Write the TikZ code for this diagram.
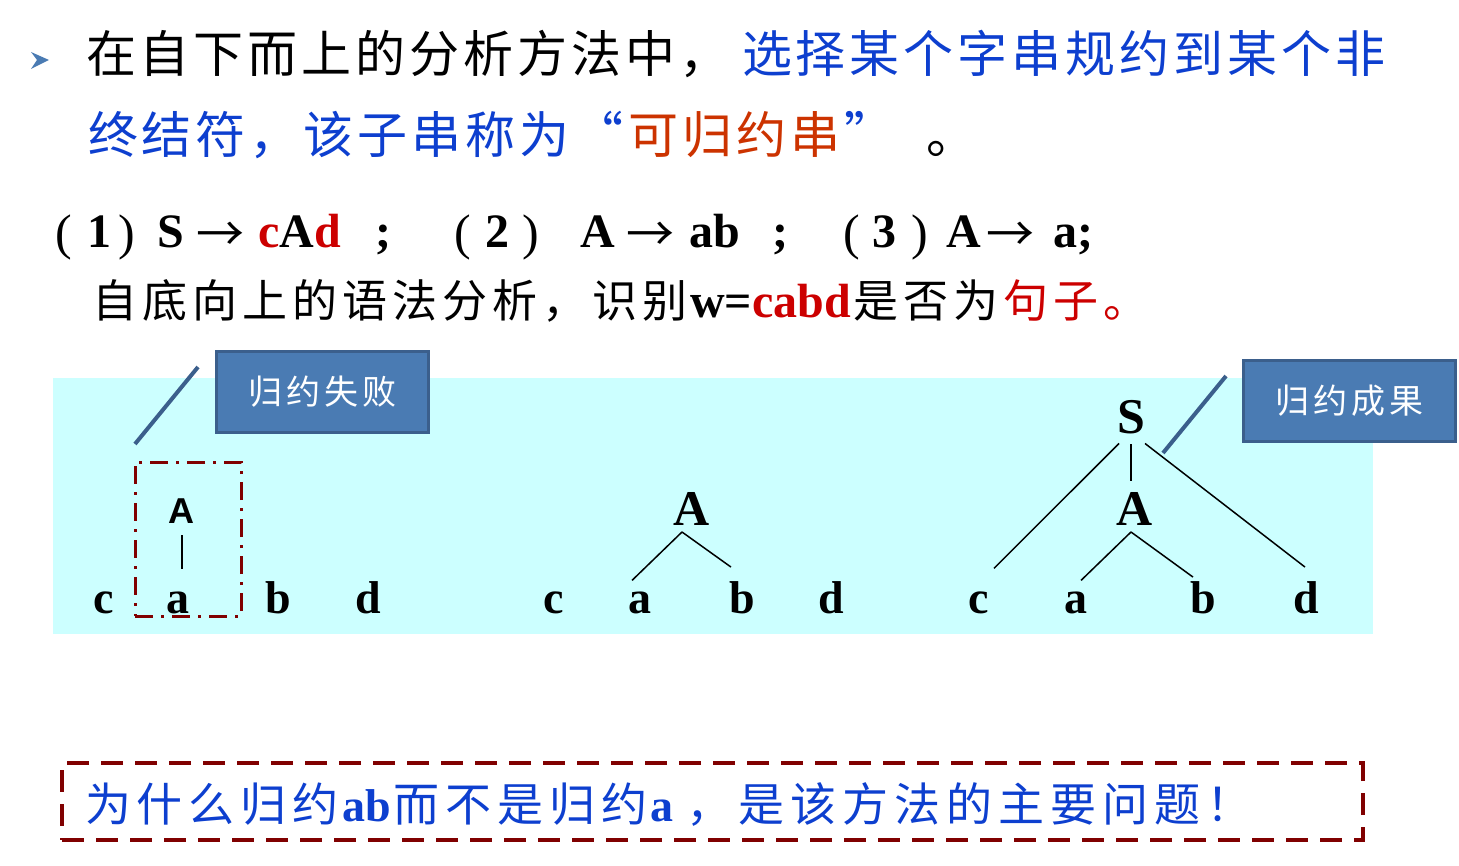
\documentclass[tikz,border=0pt]{standalone}
\usepackage{fontspec}
\setmainfont{Liberation Serif}
\newfontfamily\cjk{Noto Sans CJK SC}
\newfontfamily\sansb{Liberation Sans}
\usetikzlibrary{calc}
\definecolor{tblue}{HTML}{0D3FCF}
\definecolor{tred}{HTML}{CC0000}
\definecolor{torange}{HTML}{CC3300}
\definecolor{cyanbg}{HTML}{CCFFFF}
\definecolor{boxfill}{HTML}{4A7BB3}
\definecolor{boxdraw}{HTML}{3B5F8C}
\definecolor{darkred}{HTML}{800000}
\makeatletter
\newcommand\spc[2]{\def\spc@w{#1}\spc@loop#2\relax}
\def\spc@loop#1{\ifx\relax#1\else\makebox[\spc@w][c]{#1}\expandafter\spc@loop\fi}
\makeatother
\begin{document}
\begin{tikzpicture}[x=1pt,y=-1pt,
  txt/.style={inner sep=0pt,outer sep=0pt,anchor=base west},
  sym/.style={inner sep=0pt,outer sep=0pt,anchor=base,font=\fontsize{48}{52}\selectfont\bfseries},
  par/.style={inner sep=0pt,outer sep=0pt,anchor=base,font=\fontsize{50}{54}\selectfont},
  arr/.style={inner sep=0pt,outer sep=0pt,anchor=base,font=\cjk\fontsize{48}{52}\selectfont},
  leaf/.style={inner sep=0pt,outer sep=0pt,anchor=base,font=\fontsize{46}{50}\selectfont\bfseries},
  nt/.style={inner sep=0pt,outer sep=0pt,anchor=base,font=\fontsize{50}{54}\selectfont\bfseries},
  callout/.style={draw=boxdraw,line width=3pt,fill=boxfill,minimum width=212pt,minimum height=81pt,text=white,inner sep=0pt,font=\cjk\fontsize{34}{38}\selectfont},
  pointer/.style={draw=boxdraw,line width=4pt},
  tedge/.style={draw=black,line width=1.5pt}]
\useasboundingbox (0,0) rectangle (1459,866);
% background
\fill[cyanbg] (53,378) rectangle (1373,634);
% bullet
\fill[boxfill] (31,52) -- (49,60) -- (31,69) -- (37,60) -- cycle;
% line 1
\node[txt] (l1a) at (84,73) {\cjk\fontsize{50}{54}\selectfont\spc{54pt}{在自下而上的分析方法中，}};
\node[txt,text=tblue] (l1b) at (740,73) {\cjk\fontsize{50}{54}\selectfont\spc{54pt}{选择某个字串规约到某个非}};
% line 2
\node[txt] (l2a) at (86,154) {\cjk\fontsize{50}{54}\selectfont\color{tblue}\spc{54pt}{终结符，该子串称为“}\color{torange}\spc{54pt}{可归约串}\color{tblue}\spc{54pt}{”}};
\node[txt] (l2b) at (926,154) {\cjk\fontsize{50}{54}\selectfont 。};
% line 3
\node[par] (p1o) at (64,250) {(};
\node[sym] (p1n) at (99,248) {1};
\node[par] (p1c) at (127,250) {)};
\node[sym] (r1l) at (171,248) {S};
\node[arr] (r1a) at (220,252) {→};
\node[sym,text=tred] (r1r) at (300,248) {c\textcolor{black}{A}d};
\node[sym] (s1) at (383,248) {;};
\node[par] (p2o) at (463,250) {(};
\node[sym] (p2n) at (497,248) {2};
\node[par] (p2c) at (531,250) {)};
\node[sym] (r2l) at (598,248) {A};
\node[arr] (r2a) at (650,252) {→};
\node[sym] (r2r) at (715,248) {ab};
\node[sym] (s2) at (780,248) {;};
\node[par] (p3o) at (852,250) {(};
\node[sym] (p3n) at (884,248) {3};
\node[par] (p3c) at (920,250) {)};
\node[sym] (r3l) at (964,248) {A};
\node[arr] (r3a) at (1010,252) {→};
\node[sym] (r3r) at (1073,248) {a;};
% line 4
\node[txt] (l4) at (90,318) {{\cjk\fontsize{45}{49}\selectfont\spc{50pt}{自底向上的语法分析，识别}}{\fontsize{48}{52}\selectfont\bfseries w=\textcolor{tred}{cabd}}{\cjk\fontsize{45}{49}\selectfont\spc{50pt}{是否为}\color{tred}\spc{50pt}{句子。}}};
% callouts
\node[callout] (fail) at (322.5,392) {\spc{38pt}{归约失败}};
\coordinate (failtail) at (198,367);
\coordinate (failtip) at (135,444);
\draw[pointer] (failtail) -- (failtip);
\node[callout] (succ) at (1349.5,401) {\spc{38pt}{归约成果}};
\coordinate (succtail) at (1226,376);
\coordinate (succtip) at (1163,453);
\draw[pointer] (succtail) -- (succtip);
% left tree
\node[leaf] (c1) at (104,613) {c};
\node[leaf] (a1) at (178,613) {a};
\node[leaf] (b1) at (278,613) {b};
\node[leaf] (d1) at (368,613) {d};
\node[inner sep=0pt,anchor=base,font=\sansb\fontsize{36}{40}\selectfont\bfseries] (A1) at (181,523) {A};
\draw[line width=1.5pt] ([shift={(1,12)}]A1.south) -- ([shift={(4,-22)}]a1.north);
\node[draw=darkred,line width=3pt,dash pattern=on 18pt off 8pt on 3pt off 8pt,minimum width=106pt,minimum height=154pt,inner sep=0pt] (failbox) at (188,539) {};
% middle tree
\node[leaf] (c2) at (554,613) {c};
\node[leaf] (a2) at (640,613) {a};
\node[leaf] (b2) at (742,613) {b};
\node[leaf] (d2) at (831,613) {d};
\node[nt] (A2) at (692,525) {A};
\draw[tedge] ([shift={(-10,7)}]A2.south) -- ([shift={(-8,-11)}]a2.north);
\draw[tedge] ([shift={(-10,7)}]A2.south) -- ([shift={(-11,-14)}]b2.north);
% right tree
\node[leaf] (c3) at (979,613) {c};
\node[leaf] (a3) at (1076,613) {a};
\node[leaf] (b3) at (1203,613) {b};
\node[leaf] (d3) at (1306,613) {d};
\node[nt] (S3) at (1131,433) {S};
\node[nt] (A3) at (1135,525) {A};
\draw[tedge] ([shift={(-12,10)}]S3.south) -- ([shift={(15,-23)}]c3.north);
\draw[tedge] ([shift={(0,11)}]S3.south) -- ([shift={(-4,-11)}]A3.north);
\draw[tedge] ([shift={(14,10)}]S3.south) -- ([shift={(-1,-14)}]d3.north);
\draw[tedge] ([shift={(-4,7)}]A3.south) -- ([shift={(5,-11)}]a3.north);
\draw[tedge] ([shift={(-4,7)}]A3.south) -- ([shift={(-10,-4)}]b3.north);
% bottom question
\node[draw=darkred,line width=4pt,dash pattern=on 22pt off 12pt,minimum width=1301pt,minimum height=77pt,inner sep=0pt] (qbox) at (712.5,801.5) {};
\node[txt,text=tblue] (q) at (82,821) {\cjk\fontsize{46}{50}\selectfont\spc{52pt}{为什么归约}{\rmfamily\bfseries\fontsize{46}{50}\selectfont ab}\spc{52pt}{而不是归约}{\rmfamily\bfseries\fontsize{46}{50}\selectfont a}\hspace{10pt}\spc{52pt}{，是该方法的主要问题！}};
\end{tikzpicture}
\end{document}
